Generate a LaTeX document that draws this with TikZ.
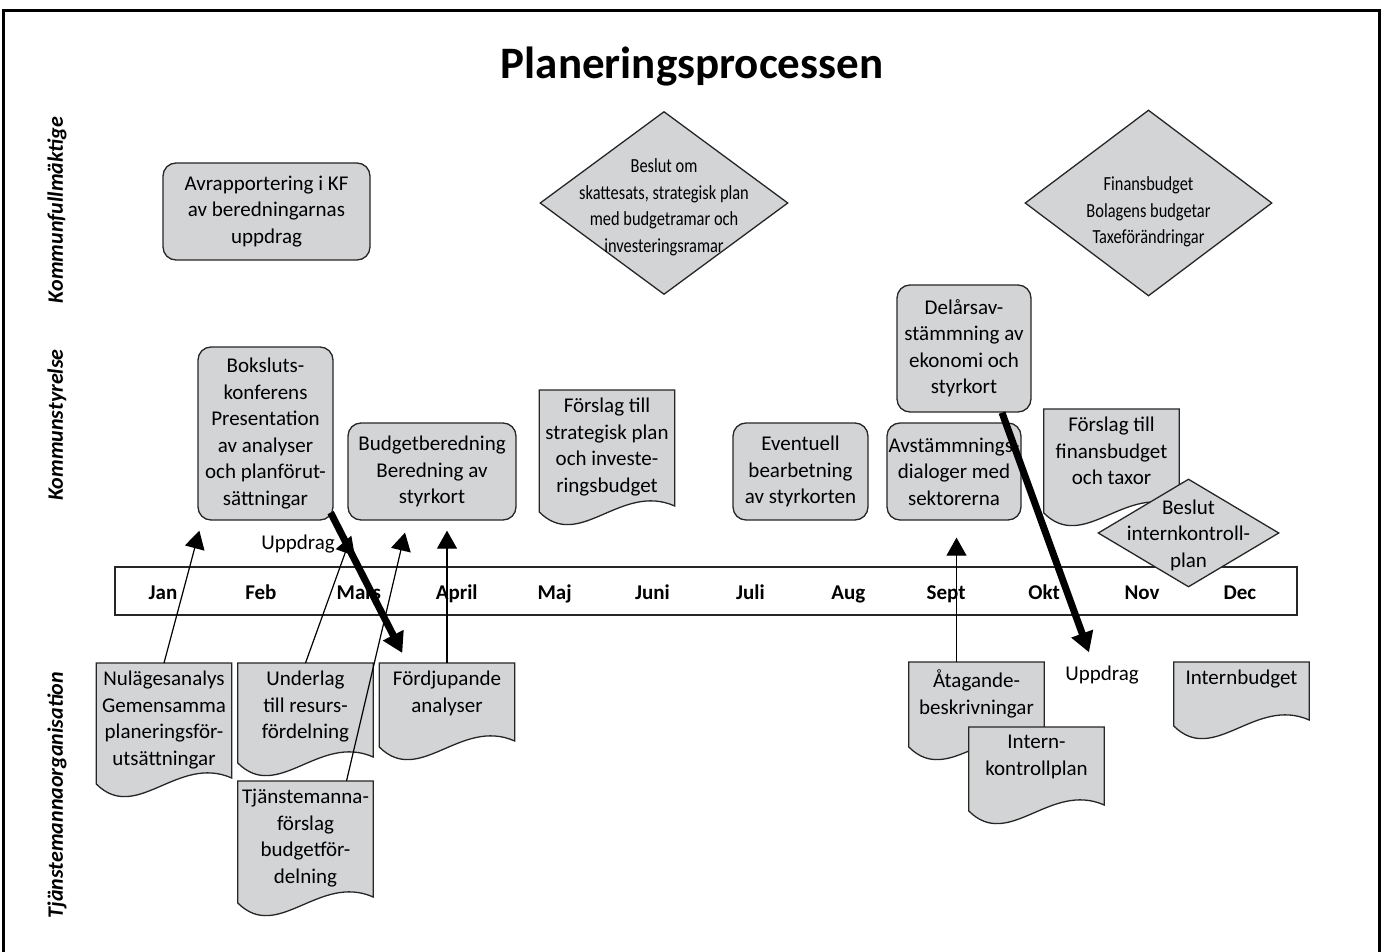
\documentclass[tikz,border=0pt]{standalone}
\usepackage{fontspec}
\setmainfont{Carlito}
\newfontfamily\narrowfont{Carlito}[FakeStretch=0.82]
\usetikzlibrary{shapes.geometric,arrows.meta,backgrounds}
\definecolor{boxgray}{RGB}{211,212,214}

\newcommand{\docnode}[4]{%
    \node[document] (#1) at #2 {#4};
    \begin{pgfonlayer}{background}
        \path (#1.north east) ++(0,#3) coordinate (#1-br);
        \path (#1.north west) ++(0,#3+6) coordinate (#1-bl);
        \draw[sheet] (#1.north west) -- (#1.north east) -- (#1-br)
            .. controls +(-54,-24) and +(40,40) .. (#1-bl) -- cycle;
    \end{pgfonlayer}}

\begin{document}
\begin{tikzpicture}[x=1pt,y=-1pt,
        every node/.style={font=\fontsize{21}{26.5}\selectfont},
        process/.style={rectangle,rounded corners=13pt,draw=black!85,line width=1.3pt,fill=boxgray,align=center,inner sep=0pt},
        decision/.style={diamond,draw=black!85,line width=1.3pt,fill=boxgray,align=center,inner sep=-120pt},
        document/.style={anchor=north,align=center,minimum width=135pt,inner xsep=1pt,inner ysep=8pt},
        sheet/.style={draw=black!85,line width=1.3pt,fill=boxgray},
        month/.style={anchor=base,font=\fontsize{21}{24}\selectfont\bfseries},
        lane/.style={rotate=90,font=\fontsize{22}{24}\selectfont\bfseries\itshape},
        note/.style={font=\fontsize{21}{24}\selectfont},
        flow/.style={-{Triangle[length=18pt,width=20pt]},line width=1.2pt},
        assign/.style={-{Triangle[length=20pt,width=22pt]},line width=7pt}
    ]

    \useasboundingbox (0,0) rectangle (1384,952);
    \draw[line width=3pt] (3,952) -- (3,11) -- (1379,11) -- (1379,952);

    \node[font=\fontsize{45}{48}\selectfont\bfseries] (title) at (692,67) {Planeringsprocessen};

    \node[lane] (kf) at (57,210) {Kommunfullmäktige};
    \node[lane] (ks) at (57,425) {Kommunstyrelse};
    \node[lane] (tj) at (57,795) {Tjänstemannaorganisation};

    \node[process,minimum width=207pt,minimum height=97pt] (avrap) at (266.5,211.5)
        {Avrapportering i KF\\av beredningarnas\\uppdrag};
    \node[decision,minimum width=248pt,minimum height=183pt,font=\fontsize{20}{26.5}\selectfont\narrowfont] (beslut) at (664,203)
        {\rule{0pt}{22pt}Beslut om\\skattesats, strategisk plan\\med budgetramar och\\investeringsramar};
    \node[decision,minimum width=247pt,minimum height=186pt,font=\fontsize{20}{26.5}\selectfont\narrowfont] (finans) at (1148.5,203)
        {\rule{0pt}{32pt}Finansbudget\\Bolagens budgetar\\Taxeförändringar};

    \node[process,minimum width=135pt,minimum height=173pt] (boks) at (265.5,433.5)
        {Boksluts-\\konferens\\Presentation\\av analyser\\och planförut-\\sättningar};
    \node[process,minimum width=168pt,minimum height=97pt] (budg) at (432,471.5)
        {Budgetberedning\\Beredning av\\styrkort};
    \node[process,minimum width=135pt,minimum height=97pt] (event) at (800.5,471.5)
        {Eventuell\\bearbetning\\av styrkorten};
    \node[process,minimum width=134pt,minimum height=127pt] (delar) at (964,348.5)
        {Delårsav-\\stämmning av\\ekonomi och\\styrkort};
    \node[process,minimum width=134pt,minimum height=97pt] (avst) at (954,471.5)
        {Avstämmnings-\\dialoger med\\sektorerna};

    \docnode{strat}{(607,390)}{116}{Förslag till\\strategisk plan\\och investe-\\ringsbudget}
    \docnode{fin}{(1111.5,409)}{98}{Förslag till\\finansbudget\\och taxor}

    \node[rectangle,draw=black!85,line width=1.3pt,minimum width=1182pt,minimum height=48pt] (bar) at (706,591) {};
    \foreach \m [count=\i] in {Jan,Feb,Mars,April,Maj,Juni,Juli,Aug,Sept,Okt,Nov,Dec}
        \node[month] (m\i) at ({163+97.9*(\i-1)},599) {\m};

    \node[decision,minimum width=181pt,minimum height=108pt] (ikbeslut) at (1188.5,533)
        {\rule{0pt}{19pt}Beslut\\internkontroll-\\plan};

    \docnode{nul}{(164,663)}{115}{Nulägesanalys\\Gemensamma\\planeringsför-\\utsättningar}
    \docnode{und}{(305.5,663)}{94}{Underlag\\till resurs-\\fördelning}
    \docnode{ford}{(447,663)}{78}{Fördjupande\\analyser}
    \docnode{tjm}{(305.5,781)}{116}{Tjänstemanna-\\förslag\\budgetför-\\delning}
    \docnode{atag}{(976.5,662)}{79}{Åtagande-\\beskrivningar}
    \docnode{intk}{(1036.5,727)}{78}{Intern-\\kontrollplan}
    \docnode{intb}{(1241.5,662)}{58}{Internbudget}

    \node[note] (upp1) at (298,544) {Uppdrag};
    \node[note] (upp2) at (1102,675) {Uppdrag};

    \draw[flow] (nul.north) -- ([shift={(2,10)}]boks.south west);
    \draw[flow] (und.north) -- ([shift={(4,15)}]budg.south west);
    \draw[flow] ([xshift=41pt]tjm.north) -- ([shift={(-27,12)}]budg.south);
    \draw[flow,shorten >=10pt] (ford.north) -- (ford.north |- budg.south);
    \draw[flow,shorten >=17pt] ([xshift=-20pt]atag.north) -- ([xshift=-20pt]atag.north |- avst.south);

    \draw[assign] ([shift={(-3,-8)}]boks.south east) -- ([shift={(23,-10)}]ford.north west);
    \draw[assign] ([xshift=38pt]delar.south) -- ([shift={(-13,-10)}]upp2.north);

\end{tikzpicture}
\end{document}
